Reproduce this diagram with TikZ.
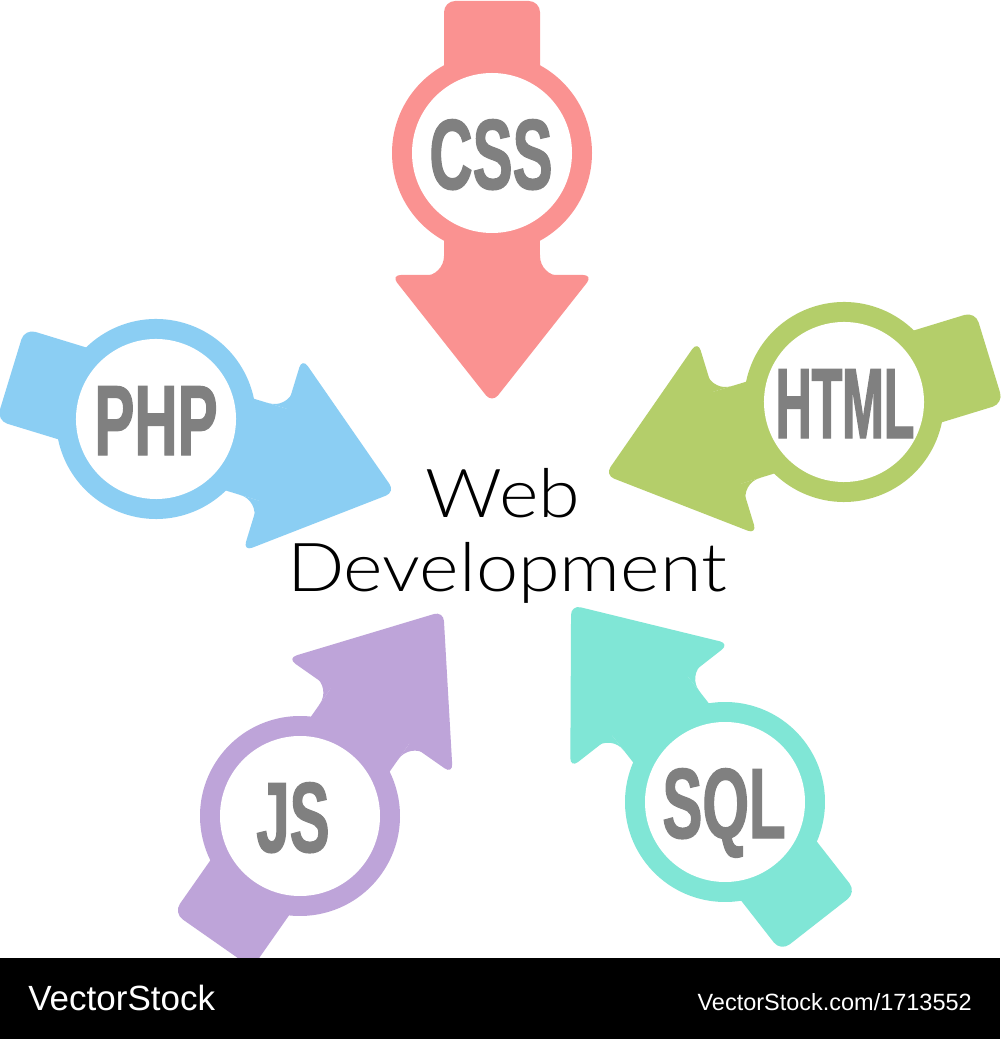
\documentclass[tikz,border=0pt]{standalone}
\usepackage{fontspec}
\setmainfont{Liberation Sans}
\newfontfamily\badgefont[FakeStretch=0.6,FakeBold=1.2]{Liberation Sans}
\newfontfamily\badgenarrow[FakeStretch=0.5,FakeBold=1.2]{Liberation Sans}
\newfontfamily\titlefont[FakeStretch=1.12]{Lato Light}
\usetikzlibrary{positioning,calc}

\definecolor{cssred}{RGB}{250,146,145}
\definecolor{phpblue}{RGB}{139,206,243}
\definecolor{htmlgreen}{RGB}{180,206,106}
\definecolor{jspurple}{RGB}{190,164,217}
\definecolor{sqlteal}{RGB}{128,230,214}
\definecolor{labelgray}{RGB}{128,128,128}

\begin{document}
\begin{tikzpicture}[
  x=0.025cm, y=0.025cm,
  badge/.style={font=\badgefont\bfseries\fontsize{71}{71}\selectfont,
    text=labelgray, inner sep=0pt, anchor=base, yshift=-0.9cm},
  title/.style={font=\titlefont\fontsize{48}{52}\selectfont, inner sep=0pt, anchor=base},
  stock/.style={text=white, inner sep=0pt, anchor=base},
  pics/webarrow/.style={code={
    % tail
    \fill[#1, rounded corners=8pt] (-152,-48) rectangle (0,48);
    % ring
    \fill[#1] (0,0) circle[radius=100];
    % neck and notches
    \fill[#1] (0,-48) rectangle (124,48);
    \fill[#1] (102,48) -- (123,48) -- (123,68) arc[start angle=0, end angle=-90, radius=20] -- cycle;
    \fill[#1] (102,-48) -- (123,-48) -- (123,-68) arc[start angle=0, end angle=90, radius=20] -- cycle;
    % head
    \fill[#1, rounded corners=7pt] (122,-101) -- (250,0) -- (122,101) -- cycle;
    % hole
    \fill[white] (0,0) circle[radius=80];
  }}
]

\useasboundingbox (0,0) rectangle (1000,1039);
\fill[white] (0,0) rectangle (1000,1039);

% arrows round the centre
\pic[rotate=-90] at (492,886) {webarrow=cssred};
\pic[rotate=-17] at (156,620) {webarrow=phpblue};
\pic[rotate=197] at (844,637) {webarrow=htmlgreen};
\pic[rotate=55]  at (300,223) {webarrow=jspurple};
\pic[rotate=128] at (725,237) {webarrow=sqlteal};

% labels in the rings
\node[badge] (css)  at (491,886) {CSS};
\node[badge] (php)  at (156,620) {PHP};
\node[badge, font=\badgenarrow\bfseries\fontsize{71}{71}\selectfont] (html) at (845,637) {HTML};
\node[badge] (js)   at (293,223) {JS};
\node[badge] (sql)  at (724,237) {SQL};

% centre text
\node[title] (web)   at (503,521) {Web};
\node[title] (devel) at (507,447) {Development};

% footer bar
\fill[black] (0,0) rectangle (1000,81);
\node[stock, anchor=base west, font=\fontsize{24.9}{26}\selectfont] (brand) at (28,28) {VectorStock};
\node[stock, anchor=base east, font=\fontsize{16.7}{18}\selectfont] (url) at (972,28) {VectorStock.com/1713552};

\end{tikzpicture}
\end{document}
